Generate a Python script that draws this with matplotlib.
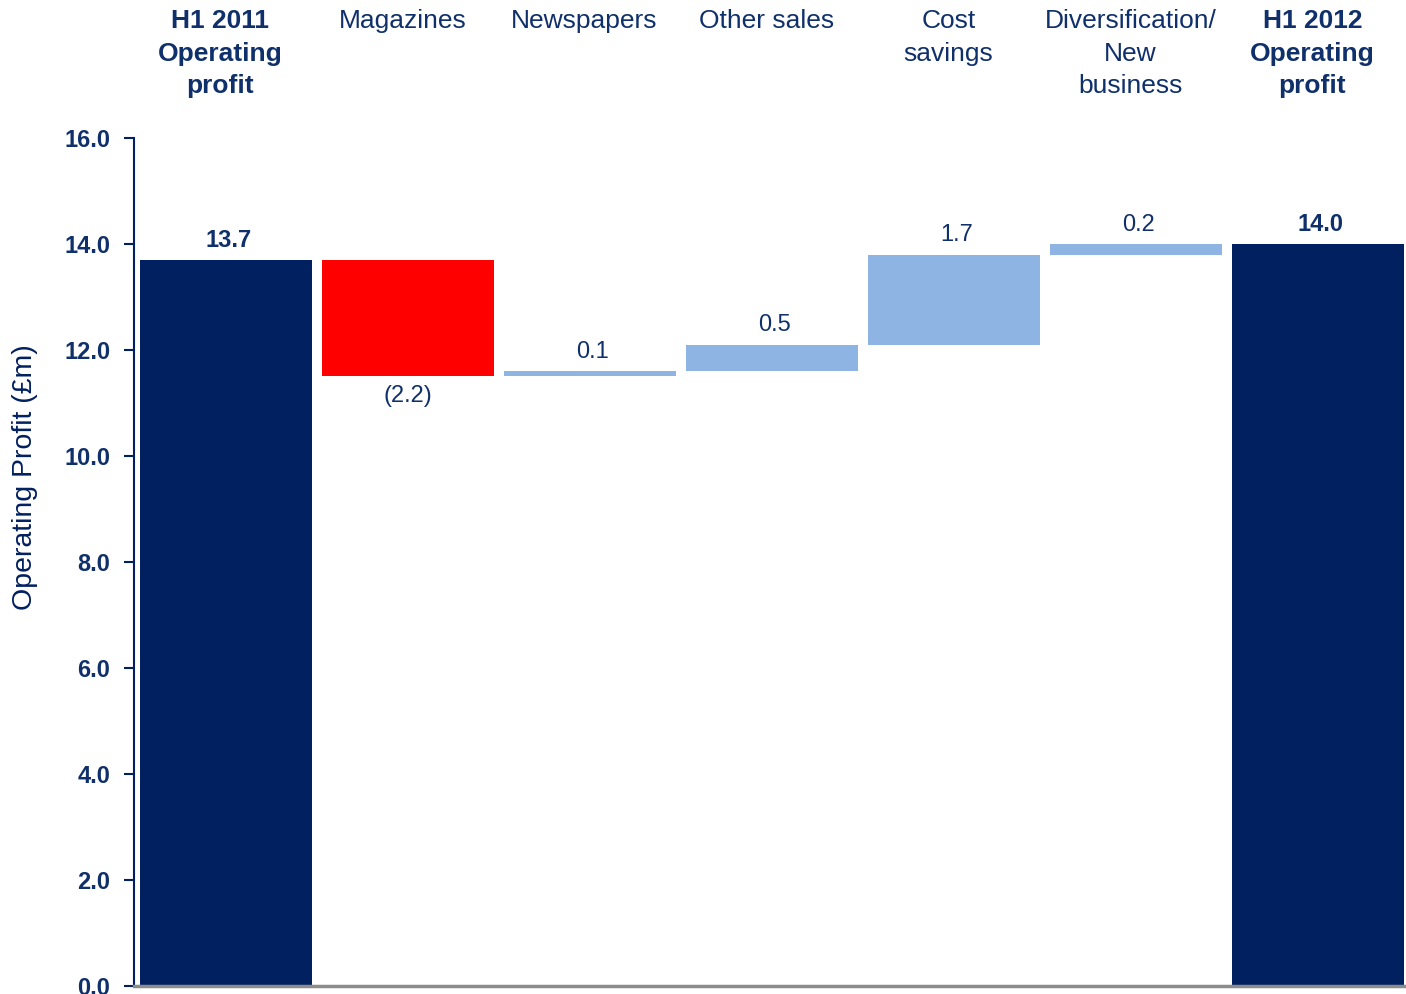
import matplotlib
matplotlib.use("Agg")
import matplotlib.pyplot as plt
import numpy as np

plt.rcParams['font.family'] = ['Liberation Sans', 'DejaVu Sans']

categories = ["H1 2011\nOperating\nprofit", "Magazines", "Newspapers", "Other sales",
              "Cost\nsavings", "Diversification/\nNew\nbusiness", "H1 2012\nOperating\nprofit"]
changes = [13.7, -2.2, 0.1, 0.5, 1.7, 0.2, 14.0]
value_labels = ["13.7", "(2.2)", "0.1", "0.5", "1.7", "0.2", "14.0"]
is_total = [True, False, False, False, False, False, True]
y_ticks = [0, 2, 4, 6, 8, 10, 12, 14, 16]

NAVY = "#012060"
RED = "#ff0000"
LIGHT = "#8eb4e3"
TEXT = "#10306b"

fig = plt.figure(figsize=(14.06, 9.94), dpi=100)
ax = fig.add_axes([134 / 1406, 8 / 994, 1 - 134 / 1406, 848 / 994])

x = np.arange(len(changes))
running = 0.0
for i, (v, total) in enumerate(zip(changes, is_total)):
    if total:
        bottom, height, col = 0, v, NAVY
        running = v
    else:
        bottom = running if v >= 0 else running + v
        height = abs(v)
        col = RED if v < 0 else LIGHT
        running += v
    ax.bar(x[i], height, bottom=bottom, width=0.945, color=col, zorder=2)
    weight = "bold" if total else "normal"
    if v >= 0 or total:
        ax.annotate(value_labels[i], (x[i], bottom + height), xytext=(2, 6),
                    textcoords="offset points", ha="center", va="bottom",
                    fontsize=17, color=TEXT, fontweight=weight)
    else:
        ax.annotate(value_labels[i], (x[i], bottom), xytext=(0, -6),
                    textcoords="offset points", ha="center", va="top",
                    fontsize=17, color=TEXT, fontweight=weight)

# category names across the top
for i, name in enumerate(categories):
    ax.text(x[i] - 0.03, 1.152, name, transform=ax.get_xaxis_transform(),
            ha="center", va="top", fontsize=19, color=TEXT, linespacing=1.45,
            fontweight="bold" if is_total[i] else "normal")

ax.set_xlim(-0.505, 6.4835)
ax.set_ylim(0, 16)
ax.set_yticks(y_ticks)
ax.set_yticklabels([f"{t:.1f}" for t in y_ticks], fontsize=17, fontweight="bold", color=TEXT)
ax.tick_params(axis="y", direction="out", length=7, width=1.5, color=NAVY, pad=10)
ax.set_xticks([])

ax.spines["top"].set_visible(False)
ax.spines["right"].set_visible(False)
ax.spines["left"].set_color(NAVY)
ax.spines["left"].set_linewidth(1.5)
ax.spines["bottom"].set_color("#8c8c8c")
ax.spines["bottom"].set_linewidth(2.5)
ax.spines["bottom"].set_zorder(3)

fig.text(25 / 1406, 0.52, "Operating Profit (£m)", rotation=90, ha="center", va="center",
         fontsize=20.5, color=NAVY)

fig.savefig("out.png", dpi=100)
